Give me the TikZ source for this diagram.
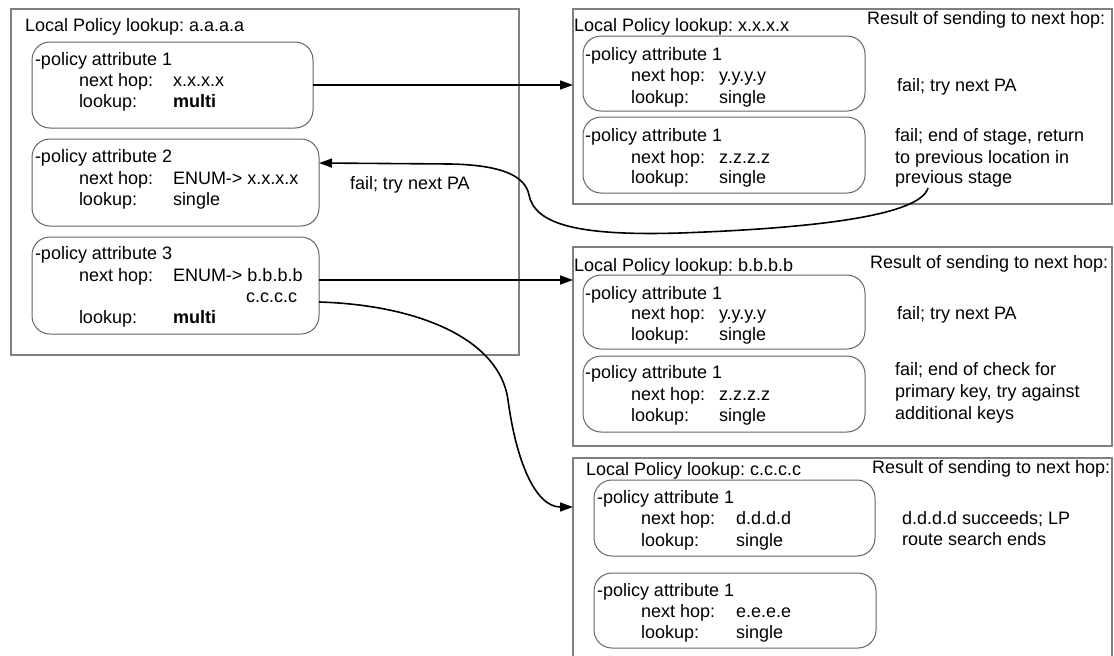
\documentclass[tikz,border=0pt]{standalone}
\usepackage{fontspec}
\setmainfont{Liberation Sans}
\frenchspacing
\usetikzlibrary{arrows.meta}
\definecolor{outerc}{RGB}{128,128,128}
\definecolor{innerc}{RGB}{100,100,100}
\tikzset{
  outerbox/.style={draw=outerc, line width=1.1pt, inner sep=0pt, outer sep=0pt, anchor=north west},
  pbox/.style={draw=innerc, line width=1pt, rounded corners=18pt, inner sep=0pt, outer sep=0pt, anchor=north west},
  lbl/.style={anchor=base west, inner sep=0pt, outer sep=0pt, font=\fontsize{18}{21}\selectfont},
  conn/.style={line width=1.6pt, -{Triangle[length=13pt,width=9pt]}},
}
\begin{document}
\begin{tikzpicture}[x=1pt,y=-1pt]
\clip (0,0) rectangle (1114,656);

% ---------------- Box A ----------------
\node[outerbox, minimum width=508pt, minimum height=346pt] (ba) at (11,9) {};
\node[lbl] (ta) at (25,31.5) {Local Policy lookup: a.a.a.a};

\node[pbox, minimum width=281pt, minimum height=86pt] (pa1) at (32,42) {};
\node[lbl] (pa1t) at (35,65) {-policy attribute 1};
\node[lbl] (pa1n) at (79,86.5) {next hop:};
\node[lbl] (pa1nv) at (173,86.5) {x.x.x.x};
\node[lbl] (pa1l) at (79,107) {lookup:};
\node[lbl] (pa1lv) at (173,107) {\bfseries multi};

\node[pbox, minimum width=287pt, minimum height=87pt] (pa2) at (32,139) {};
\node[lbl] (pa2t) at (35,162) {-policy attribute 2};
\node[lbl] (pa2n) at (79,184) {next hop:};
\node[lbl] (pa2nv) at (173,184) {ENUM-> x.x.x.x};
\node[lbl] (pa2l) at (79,205.5) {lookup:};
\node[lbl] (pa2lv) at (173,205.5) {single};

\node[pbox, minimum width=287pt, minimum height=97pt] (pa3) at (32,237) {};
\node[lbl] (pa3t) at (35,259.5) {-policy attribute 3};
\node[lbl] (pa3n) at (79,281) {next hop:};
\node[lbl] (pa3nv) at (173,281) {ENUM-> b.b.b.b};
\node[lbl] (pa3nv2) at (246,302.5) {c.c.c.c};
\node[lbl] (pa3l) at (79,323.5) {lookup:};
\node[lbl] (pa3lv) at (173,323.5) {\bfseries multi};

\node[lbl] (failA) at (350,189.5) {fail; try next PA};

% ---------------- Box B ----------------
\node[outerbox, minimum width=539pt, minimum height=195pt] (bb) at (573,9) {};
\node[lbl] (tb) at (574,31.5) {Local Policy lookup: x.x.x.x};
\node[lbl] (rb) at (867,24.5) {Result of sending to next hop:};

\node[pbox, minimum width=282pt, minimum height=75pt] (b1) at (583,36) {};
\node[lbl] (b1t) at (585,60.5) {-policy attribute 1};
\node[lbl] (b1n) at (631,81.5) {next hop:};
\node[lbl] (b1nv) at (719,81.5) {y.y.y.y};
\node[lbl] (b1l) at (631,103.5) {lookup:};
\node[lbl] (b1lv) at (719,103.5) {single};

\node[pbox, minimum width=282pt, minimum height=76pt] (b2) at (583,117) {};
\node[lbl] (b2t) at (585,141.5) {-policy attribute 1};
\node[lbl] (b2n) at (631,163.5) {next hop:};
\node[lbl] (b2nv) at (719,163.5) {z.z.z.z};
\node[lbl] (b2l) at (631,183.5) {lookup:};
\node[lbl] (b2lv) at (719,183.5) {single};

\node[lbl] (rb1) at (897,91.5) {fail; try next PA};
\node[lbl] (rb2a) at (895,141.5) {fail; end of stage, return};
\node[lbl] (rb2b) at (895,163.5) {to previous location in};
\node[lbl] (rb2c) at (895,183.5) {previous stage};

% ---------------- Box C ----------------
\node[outerbox, minimum width=539pt, minimum height=199pt] (bc) at (573,247) {};
\node[lbl] (tc) at (574,271.5) {Local Policy lookup: b.b.b.b};
\node[lbl] (rc) at (870,268.5) {Result of sending to next hop:};

\node[pbox, minimum width=282pt, minimum height=74pt] (c1) at (583,275) {};
\node[lbl] (c1t) at (585,299.5) {-policy attribute 1};
\node[lbl] (c1n) at (631,319.5) {next hop:};
\node[lbl] (c1nv) at (719,319.5) {y.y.y.y};
\node[lbl] (c1l) at (631,340.5) {lookup:};
\node[lbl] (c1lv) at (719,340.5) {single};

\node[pbox, minimum width=282pt, minimum height=76pt] (c2) at (583,356) {};
\node[lbl] (c2t) at (585,378.5) {-policy attribute 1};
\node[lbl] (c2n) at (631,400) {next hop:};
\node[lbl] (c2nv) at (719,400) {z.z.z.z};
\node[lbl] (c2l) at (631,421.5) {lookup:};
\node[lbl] (c2lv) at (719,421.5) {single};

\node[lbl] (rc1) at (897,319.5) {fail; try next PA};
\node[lbl] (rc2a) at (895,375.5) {fail; end of check for};
\node[lbl] (rc2b) at (895,397.5) {primary key, try against};
\node[lbl] (rc2c) at (895,419.5) {additional keys};

% ---------------- Box D ----------------
\node[outerbox, minimum width=539pt, minimum height=250pt] (bd) at (573,458) {};
\node[lbl] (td) at (586,475.5) {Local Policy lookup: c.c.c.c};
\node[lbl] (rd) at (872,473.5) {Result of sending to next hop:};

\node[pbox, minimum width=281pt, minimum height=76pt] (d1) at (594,480) {};
\node[lbl] (d1t) at (597,503.5) {-policy attribute 1};
\node[lbl] (d1n) at (641,524.5) {next hop:};
\node[lbl] (d1nv) at (736,524.5) {d.d.d.d};
\node[lbl] (d1l) at (641,546.5) {lookup:};
\node[lbl] (d1lv) at (736,546.5) {single};

\node[pbox, minimum width=282pt, minimum height=75pt] (d2) at (594,573) {};
\node[lbl] (d2t) at (597,596.5) {-policy attribute 1};
\node[lbl] (d2n) at (641,617.5) {next hop:};
\node[lbl] (d2nv) at (736,617.5) {e.e.e.e};
\node[lbl] (d2l) at (641,638.5) {lookup:};
\node[lbl] (d2lv) at (736,638.5) {single};

\node[lbl] (rd1a) at (902,524.5) {d.d.d.d succeeds; LP};
\node[lbl] (rd1b) at (902,545.5) {route search ends};

% ---------------- Connectors ----------------
\draw[conn] (pa1.east) -- (pa1.east -| bb.west);
\draw[conn] ([yshift=5.5pt]pa3.east) -- ([yshift=5.5pt]pa3.east -| bc.west);
\coordinate (c3s) at ([yshift=-16.5pt]pa3.east);
\coordinate (c3e) at ([yshift=-49pt]bd.north west);
\draw[conn] (c3s) .. controls (420,305) and (500,340) .. (508,400)
  .. controls (516,460) and (535,507) .. (c3e);
\coordinate (rs) at (928,188);
\draw[conn] (rs) .. controls (920,215) and (820,228) .. (680,233)
  .. controls (580,236) and (535,225) .. (529,195)
  .. controls (525,175) and (500,165) .. (450,164)
  -- ([yshift=19.5pt]pa2.east);
\end{tikzpicture}
\end{document}
